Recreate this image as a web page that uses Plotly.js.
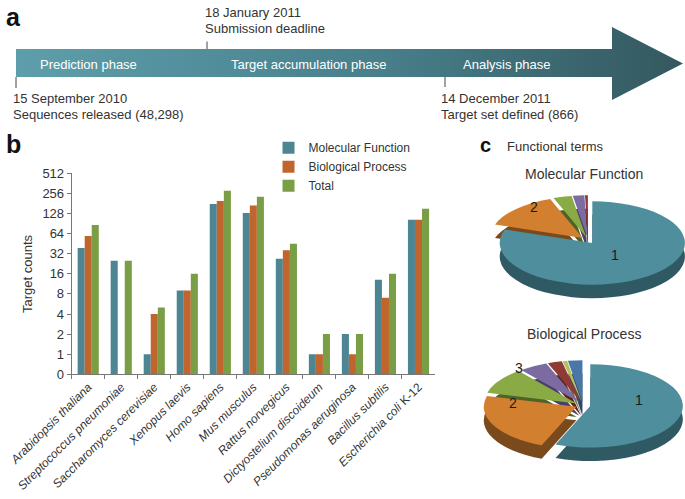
<!DOCTYPE html>
<html>
<head>
<meta charset="utf-8">
<script src="https://cdn.plot.ly/plotly-3.0.1.min.js"></script>
<style>
  html, body { margin:0; padding:0; background:#fff; overflow:hidden; }
  #main { position:absolute; left:0; top:0; width:685px; height:499px; z-index:2; }
  .pie { position:absolute; width:200px; height:240px; transform: scaleY(0.45); transform-origin: top left; z-index:1; }
  #pieMF { left:488px; top:193px; }
  #pieBP { left:483px; top:358px; }
</style>
</head>
<body>
<div id="main"></div>
<div id="pieMF" class="pie"></div>
<div id="pieBP" class="pie"></div>
<script>
// ---------- DATA ----------
const categories = ["Arabidopsis thaliana","Streptococcus pneumoniae","Saccharomyces cerevisiae","Xenopus laevis","Homo sapiens","Mus musculus","Rattus norvegicus","Dictyostelium discoideum","Pseudomonas aeruginosa","Bacillus subtilis","Escherichia coli K-12"];
const categoryLabels = ["<i>Arabidopsis thaliana</i>","<i>Streptococcus pneumoniae</i>","<i>Saccharomyces cerevisiae</i>","<i>Xenopus laevis</i>","<i>Homo sapiens</i>","<i>Mus musculus</i>","<i>Rattus norvegicus</i>","<i>Dictyostelium discoideum</i>","<i>Pseudomonas aeruginosa</i>","<i>Bacillus subtilis</i>","<i>Escherichia coli</i> K-12"];
const molecularFunction = [39, 25, 1, 9, 177, 130, 27, 1, 2, 13, 103];
const biologicalProcess = [59, 0, 4, 9, 197, 168, 36, 1, 1, 7, 103];
const total = [86, 25, 5, 16, 281, 229, 45, 2, 2, 16, 151];
const yTickLabels = ["0","1","2","4","8","16","32","64","128","256","512"];

const seriesNames = ["Molecular Function","Biological Process","Total"];
const seriesColors = ["#4d8593","#c0652e","#7a9e45"];

const timelinePhases = ["Prediction phase","Target accumulation phase","Analysis phase"];
const timelineEventsTop = [["18 January 2011","Submission deadline"]];
const timelineEventsBottom = [["15 September 2010","Sequences released (48,298)"],["14 December 2011","Target set defined (866)"]];

const pieLabelsMF = ["1","2","3","4","5"];
const pieValuesMF = [80, 14, 3.2, 2, 0.5];
const pieLabelsBP = ["1","2","3","4","5","6","7"];
const pieValuesBP = [56, 23, 10, 5, 2.5, 0.8, 2.5];
const pieColors = ["#4f8e9c","#d2802f","#8aaa45","#7c6ba0","#8f3a35","#b5c060","#4a77a8"];
const pieDarkColors = ["#2f5a64","#7a4a1c","#4f6326","#4a3f66","#5a2220","#6d7438","#2c4868"];

// log2-like position: 0 -> 0, v -> log2(v)+1
const pos = v => v > 0 ? Math.log2(v) + 1 : 0;

const FONT = "Liberation Sans, Arial, Helvetica, sans-serif";
const TXT = "#333333";

const barTraces = [molecularFunction, biologicalProcess, total].map((arr, i) => ({
  type: "bar",
  name: seriesNames[i],
  x: categories,
  y: arr.map(pos),
  marker: { color: seriesColors[i], line: { width: 0 } },
  xaxis: "x", yaxis: "y",
  hoverinfo: "skip"
}));

const arrowTrace = {
  type: "scatter", mode: "lines",
  x: [16, 612, 612, 683, 612, 612, 16, 16],
  y: [49, 49, 27, 63.5, 100, 77, 77, 49],
  fill: "toself",
  line: { width: 0, color: "rgba(0,0,0,0)" },
  fillgradient: { type: "horizontal", colorscale: [[0, "#5e9eab"], [0.55, "#477f8b"], [1, "#34585f"]] },
  xaxis: "x2", yaxis: "y2", showlegend: false, hoverinfo: "skip"
};

const ann = [];
const shapes = [];
function txt(x, y, text, opts) {
  ann.push(Object.assign({ xref: "x2", yref: "y2", x: x, y: y, text: text, showarrow: false,
    xanchor: "left", yanchor: "middle", font: { family: FONT, size: 13, color: TXT } }, opts || {}));
}
function vline(x, y0, y1) {
  shapes.push({ type: "line", xref: "x2", yref: "y2", x0: x, x1: x, y0: y0, y1: y1, line: { color: "#444", width: 1 } });
}

// Panel labels
txt(4, 17, "<b>a</b>", { font: { family: FONT, size: 25, color: "#111" } });
txt(4, 144, "<b>b</b>", { font: { family: FONT, size: 25, color: "#111" } });
txt(478, 145, "<b>c</b>", { font: { family: FONT, size: 20, color: "#111" } });

// Timeline
txt(88, 64, timelinePhases[0], { xanchor: "center", font: { family: FONT, size: 13, color: "#ffffff" } });
txt(308, 64, timelinePhases[1], { xanchor: "center", font: { family: FONT, size: 13, color: "#ffffff" } });
txt(506, 64, timelinePhases[2], { xanchor: "center", font: { family: FONT, size: 13, color: "#ffffff" } });
txt(203, 12, timelineEventsTop[0][0]); txt(203, 28, timelineEventsTop[0][1]);
vline(207, 41.5, 49);
txt(11, 98, timelineEventsBottom[0][0]); txt(11, 114, timelineEventsBottom[0][1]);
vline(16, 77, 88);
txt(439, 98, timelineEventsBottom[1][0]); txt(439, 114, timelineEventsBottom[1][1]);
vline(445, 77, 87);

// Bar y title
txt(27, 274, "Target counts", { xanchor: "center", textangle: -90 });

// Panel c
txt(505, 146, "Functional terms");
txt(584, 174, "Molecular Function", { xanchor: "center", font: { family: FONT, size: 14, color: TXT } });
txt(583.5, 334, "Biological Process", { xanchor: "center", font: { family: FONT, size: 14, color: TXT } });
const pieNumFont = { family: FONT, size: 14, color: "#1a1a1a" };
txt(615, 255, pieLabelsMF[0], { xanchor: "center", font: pieNumFont });
txt(534, 207, pieLabelsMF[1], { xanchor: "center", font: pieNumFont });
txt(639, 400, pieLabelsBP[0], { xanchor: "center", font: pieNumFont });
txt(513, 403, pieLabelsBP[1], { xanchor: "center", font: pieNumFont });
txt(519, 368, pieLabelsBP[2], { xanchor: "center", font: pieNumFont });

const layout = {
  width: 685, height: 499,
  margin: { l: 0, r: 0, t: 0, b: 0 },
  paper_bgcolor: "rgba(0,0,0,0)", plot_bgcolor: "rgba(0,0,0,0)",
  font: { family: FONT, size: 13, color: TXT },
  barmode: "group", bargap: 0.36, bargroupgap: 0,
  showlegend: true,
  legend: { x: 0.392, y: 0.733, xanchor: "left", yanchor: "top", bgcolor: "rgba(0,0,0,0)",
            font: { family: FONT, size: 12, color: TXT }, tracegroupgap: 0, itemwidth: 30 },
  xaxis: {
    domain: [71.7/685, 435/685], anchor: "y",
    range: [-0.5, 10.5],
    tickmode: "array", tickvals: categories, ticktext: categoryLabels,
    tickangle: -45, tickfont: { family: FONT, size: 12, color: TXT },
    ticks: "outside", tickson: "boundaries", ticklen: 4, tickcolor: "#777",
    showline: true, linecolor: "#777", linewidth: 1, showgrid: false, zeroline: false, fixedrange: true
  },
  yaxis: {
    domain: [(499-374.3)/499, (499-173.3)/499], anchor: "x",
    range: [0, 10],
    tickmode: "array", tickvals: yTickLabels.map((_, i) => i), ticktext: yTickLabels,
    tickfont: { family: FONT, size: 13, color: TXT },
    ticks: "outside", ticklen: 4, tickcolor: "#777",
    showline: true, linecolor: "#777", linewidth: 1, showgrid: false, zeroline: false, fixedrange: true
  },
  xaxis2: { domain: [0, 1], anchor: "y2", range: [0, 685], visible: false, fixedrange: true },
  yaxis2: { domain: [0, 1], anchor: "x2", range: [499, 0], visible: false, fixedrange: true },
  annotations: ann,
  shapes: shapes
};

Plotly.newPlot("main", [arrowTrace].concat(barTraces), layout, { staticPlot: true, displayModeBar: false });

function pieFig(id, labels, values) {
  const n = values.length;
  const base = {
    type: "pie", labels: labels, values: values, sort: false, direction: "clockwise", rotation: 0,
    textinfo: "none", hoverinfo: "skip", showlegend: false,
    pull: values.map(() => 0.08)
  };
  const depth = Object.assign({}, base, { domain: { x: [0, 1], y: [0, 0.875] },
    marker: { colors: pieDarkColors.slice(0, n), line: { width: 0 } } });
  const top = Object.assign({}, base, { domain: { x: [0, 1], y: [0.125, 1] },
    marker: { colors: pieColors.slice(0, n), line: { width: 0 } } });
  Plotly.newPlot(id, [depth, top], {
    width: 200, height: 240, margin: { l: 0, r: 0, t: 0, b: 0 },
    paper_bgcolor: "rgba(0,0,0,0)", plot_bgcolor: "rgba(0,0,0,0)", showlegend: false
  }, { staticPlot: true, displayModeBar: false });
}
pieFig("pieMF", pieLabelsMF, pieValuesMF);
pieFig("pieBP", pieLabelsBP, pieValuesBP);
</script>
</body>
</html>
